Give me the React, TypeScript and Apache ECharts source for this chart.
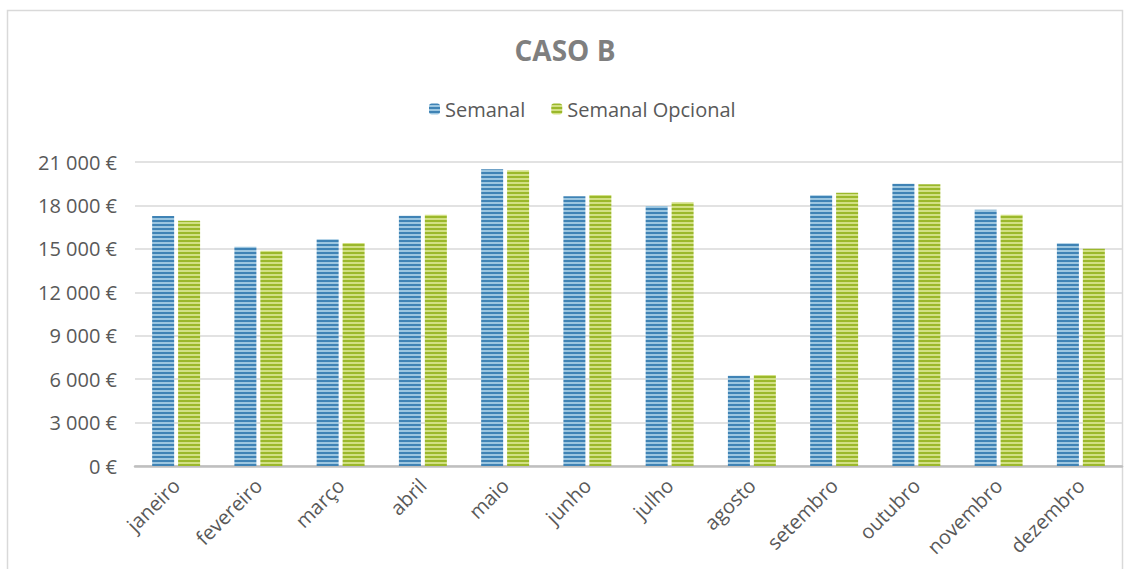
import React, { useEffect, useRef } from "react";
import * as echarts from "echarts";

const categories = ["janeiro", "fevereiro", "março", "abril", "maio", "junho", "julho", "agosto", "setembro", "outubro", "novembro", "dezembro"];
const semanal = [17270, 15150, 15660, 17290, 20495, 18630, 17960, 6240, 18700, 19500, 17710, 15380];
const semanalOpcional = [16945, 14875, 15405, 17360, 20425, 18720, 18215, 6285, 18880, 19460, 17360, 15010];
const yTicks = { min: 0, max: 21000, interval: 3000 };

function stripes(dark: string, light: string) {
  const H = 570;
  const stops: { offset: number; color: string }[] = [];
  for (let y = 0; y < H; y += 4) {
    stops.push({ offset: y / H, color: dark });
    stops.push({ offset: Math.min(1, (y + 2) / H), color: dark });
    stops.push({ offset: Math.min(1, (y + 2) / H), color: light });
    stops.push({ offset: Math.min(1, (y + 4) / H), color: light });
  }
  return new echarts.graphic.LinearGradient(0, 0, 0, H, stops, true);
}

const FONT = "'Open Sans', 'Liberation Sans', sans-serif";

export default function App() {
  const ref = useRef<HTMLDivElement>(null);
  useEffect(() => {
    if (!ref.current) return;
    const chart = echarts.init(ref.current, undefined, { renderer: "svg" });
    const blue = stripes("#3f83b5", "#9cc6e0");
    const green = stripes("#9bb82b", "#d2e084");
    chart.setOption({
      animation: false,
      backgroundColor: "#ffffff",
      textStyle: { fontFamily: FONT },
      graphic: [
        {
          type: "rect",
          shape: { x: 7.5, y: 10.5, width: 1115, height: 580 },
          style: { fill: "none", stroke: "#d9d9d9", lineWidth: 1.5 },
          silent: true,
          z: -1,
        },
      ],
      title: {
        text: "CASO B",
        left: "center",
        top: 31,
        textStyle: { fontFamily: FONT, fontSize: 28, fontWeight: "bold", color: "#7f7f7f" },
      },
      legend: {
        top: 94,
        left: 424,
        itemWidth: 11,
        itemHeight: 11,
        itemGap: 26,
        textStyle: { fontFamily: FONT, fontSize: 20, color: "#595959" },
        data: ["Semanal", "Semanal Opcional"],
      },
      grid: { left: 135, right: 8, top: 162, bottom: 103, containLabel: false },
      xAxis: {
        type: "category",
        data: categories,
        axisTick: { show: false },
        axisLine: { lineStyle: { color: "#bfbfbf", width: 2.5 } },
        axisLabel: { rotate: 45, margin: 16, fontFamily: FONT, fontSize: 20, color: "#595959", interval: 0 },
      },
      yAxis: {
        type: "value",
        min: yTicks.min,
        max: yTicks.max,
        interval: yTicks.interval,
        axisLine: { show: false },
        axisTick: { show: false },
        splitLine: { lineStyle: { color: "#d9d9d9", width: 1.5 } },
        axisLabel: {
          margin: 18,
          fontFamily: FONT,
          fontSize: 20,
          color: "#595959",
          formatter: (v: number) => String(v).replace(/\B(?=(\d{3})+(?!\d))/g, " ") + " €",
        },
      },
      series: [
        { name: "Semanal", type: "bar", data: semanal, barWidth: 22, barGap: "18%", itemStyle: { color: blue } },
        { name: "Semanal Opcional", type: "bar", data: semanalOpcional, barWidth: 22, barGap: "18%", itemStyle: { color: green } },
      ],
    });
    return () => chart.dispose();
  }, []);
  return <div ref={ref} style={{ position: "absolute", left: 0, top: 0, width: 1130, height: 569 }} />;
}
